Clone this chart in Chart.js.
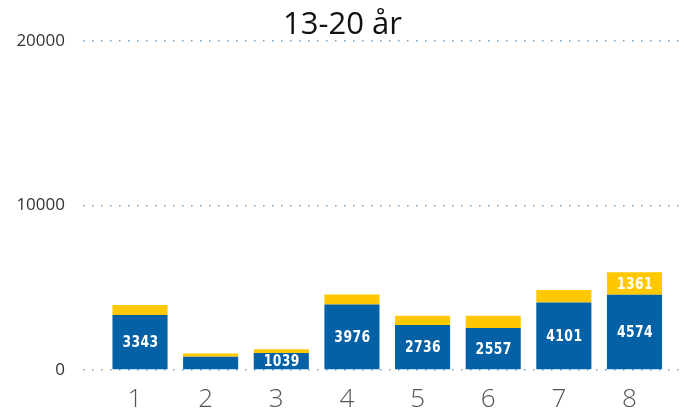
<!DOCTYPE html>
<html>
<head>
<meta charset="utf-8">
<script src="https://cdn.jsdelivr.net/npm/chart.js@4"></script>
<style>
	html, body { margin: 0; padding: 0; background: #fff; }
	#wrap { width: 685px; height: 409px; position: relative; }
</style>
</head>
<body>
<div id="wrap"><canvas id="chart"></canvas></div>
<script>
// values
const categories = [1, 2, 3, 4, 5, 6, 7, 8];
const blueValues = [3343, 800, 1039, 3976, 2736, 2557, 4101, 4574];
const yellowValues = [600, 200, 220, 620, 560, 740, 760, 1361];
const yTicks = [0, 10000, 20000];

const BLUE = '#0461A6';
const YELLOW = '#FFC800';

// white numbers inside segments that are big enough
const segmentLabels = {
	id: 'segmentLabels',
	afterDatasetsDraw(chart){
		const ctx = chart.ctx;
		chart.data.datasets.forEach((ds, i) => {
			const meta = chart.getDatasetMeta(i);
			meta.data.forEach((bar, j) => {
				const v = ds.data[j].y;
				if(v < 1000) return;
				ctx.save();
				ctx.translate(bar.x + 0.5, (bar.y + bar.base) / 2 + 1);
				ctx.scale(0.86, 1);
				ctx.font = 'bold 16px "DejaVu Sans Condensed", "DejaVu Sans", sans-serif';
				ctx.letterSpacing = '0.5px';
				ctx.fillStyle = '#fff';
				ctx.textAlign = 'center';
				ctx.textBaseline = 'middle';
				ctx.fillText(String(v), 0, 0);
				ctx.restore();
			});
		});
	}
};

new Chart(document.getElementById('chart'), {
	type: 'bar',
	data: {
		datasets: [{
			label: 'blue',
			data: categories.map((c, i) => ({ x: c, y: blueValues[i] })),
			backgroundColor: BLUE,
			barPercentage: 0.78,
			categoryPercentage: 1
		}, {
			label: 'yellow',
			data: categories.map((c, i) => ({ x: c, y: yellowValues[i] })),
			backgroundColor: YELLOW,
			barPercentage: 0.78,
			categoryPercentage: 1
		}]
	},
	options: {
		animation: false,
		responsive: true,
		maintainAspectRatio: false,
		layout: { padding: { left: 0, right: 0, top: 0, bottom: 0 } },
		scales: {
			x: {
				type: 'linear',
				stacked: true,
				offset: false,
				min: 0.193,
				max: 8.715,
				afterBuildTicks: scale => { scale.ticks = categories.map(v => ({ value: v })); },
				afterFit: scale => { scale.height = 39; },
				grid: { display: false },
				border: { display: false },
				ticks: {
					labelOffset: -5,
					padding: 6,
					color: '#555',
					font: { family: '"Open Sans", "Noto Sans", sans-serif', size: 26, weight: 300 }
				}
			},
			y: {
				stacked: true,
				min: 0,
				max: 20000,
				z: 1,
				afterBuildTicks: scale => { scale.ticks = yTicks.map(v => ({ value: v })); },
				afterFit: scale => { scale.width = 83; },
				grid: { color: '#6a9fd0', lineWidth: 1.5, drawTicks: false },
				border: { display: false, dash: [1.5, 7.5] },
				ticks: {
					padding: 18,
					color: '#333',
					callback: v => String(v),
					font: { family: '"Open Sans", "Noto Sans", sans-serif', size: 17 }
				}
			}
		},
		plugins: {
			legend: { display: false },
			tooltip: { enabled: false },
			title: {
				display: true,
				text: '13-20 år',
				color: '#111',
				font: { family: '"Open Sans", "Noto Sans", sans-serif', size: 31, weight: 400, lineHeight: 1.03 },
				padding: { top: 9, bottom: 0 }
			}
		}
	},
	plugins: [segmentLabels]
});
</script>
</body>
</html>
